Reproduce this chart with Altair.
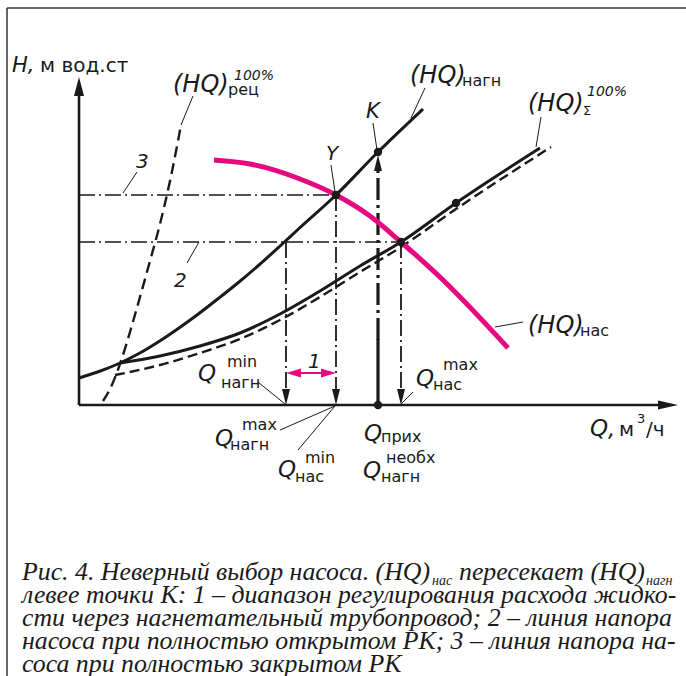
import altair as alt
import pandas as pd

# ---------------- data: Q to the right of the axis corner, H upwards (drawing units) ----------
# (HQ)нагн  - solid curve
nagn_q = [0, 20, 40, 60, 80, 100, 120, 140, 160, 180, 200, 220, 257, 299, 344]
nagn_h = [27, 33.5, 41.5, 51.5, 63.5, 77, 91.5, 107, 123, 140, 158, 176.5, 210, 253, 296]
# (HQ)Σ 100% - solid curve
sig_q = [41, 81, 121, 161, 201, 241, 281, 322, 377, 461]
sig_h = [42, 49, 59, 72, 91, 114, 139, 163, 202, 257]
# line 2 - dashed, just under (HQ)Σ
sigd_q = [36, 51, 81, 121, 161, 201, 241, 281, 322, 377, 472]
sigd_h = [30, 33, 40, 52, 66, 85, 108, 133, 158, 196, 258]
# line 3, (HQ)рец 100% - dashed steep curve
rec_q = [24, 31, 41, 51, 61, 71, 81, 91, 102]
rec_h = [4, 16, 41, 73, 108, 144, 181, 224, 280]
# (HQ)нас - magenta pump curve
nas_q = [135, 171, 221, 257, 291, 322, 364, 429]
nas_h = [245, 241, 226, 210, 189, 163, 125, 57]

# characteristic points: K, Y, intersection, point on Σ, Q прих
pt_q = [299, 257, 322, 377, 299]
pt_h = [253, 210, 163, 202, 0]

# Q values marked on the axis
q_nagn_min, q_nagn_max, q_nas_max, q_prih = 207, 257, 322, 299
h_line3, h_line2 = 210, 163

caption_lines = [
    "левее точки K: 1 – диапазон регулирования расхода жидко-",
    "сти через нагнетательный трубопровод; 2 – линия напора",
    "насоса при полностью открытом РК; 3 – линия напора на-",
    "соса при полностью закрытом РК",
]
caption_first = ["Рис. 4. Неверный выбор насоса. (HQ)", "нас", "пересекает (HQ)", "нагн"]

MAGENTA = "#E5097F"
INK = "#1a1a1a"

XS = alt.Scale(domain=[-79, 607], nice=False, zero=False)
YS = alt.Scale(domain=[-271, 405], nice=False, zero=False)
X = alt.X("q:Q", scale=XS, axis=None)
Y = alt.Y("h:Q", scale=YS, axis=None)


def curve_df(qs, hs):
    return pd.DataFrame({"q": qs, "h": hs, "i": list(range(len(qs)))})


def curve(qs, hs, color=INK, width=3.0, dash=None):
    kw = dict(color=color, strokeWidth=width, interpolate="monotone", strokeCap="butt")
    if dash:
        kw["strokeDash"] = dash
    return alt.Chart(curve_df(qs, hs)).mark_line(**kw).encode(x=X, y=Y, order="i:Q")


def segs(rows, color=INK, width=1.0, dash=None):
    df = pd.DataFrame(rows, columns=["q", "h", "q2", "h2"])
    kw = dict(color=color, strokeWidth=width, strokeCap="butt")
    if dash:
        kw["strokeDash"] = dash
    return alt.Chart(df).mark_rule(**kw).encode(x=X, y=Y, x2="q2:Q", y2="h2:Q")


def heads(rows, path, color=INK, size=100):
    df = pd.DataFrame(rows, columns=["q", "h"])
    return alt.Chart(df).mark_point(shape=path, filled=True, color=color, opacity=1,
                                    size=size, strokeWidth=0).encode(x=X, y=Y)


def texts(rows, font, style="normal", color=INK):
    df = pd.DataFrame(rows, columns=["q", "h", "t", "s"])
    return alt.Chart(df).mark_text(font=font, fontStyle=style, align="left",
                                   baseline="alphabetic", color=color).encode(
        x=X, y=Y, text="t:N", size=alt.Size("s:Q", scale=None))


DOWN = "M0,0 L-0.8,-3.2 L0.8,-3.2 Z"
UP = "M0,0 L-0.8,3.2 L0.8,3.2 Z"
LEFT = "M0,0 L3.0,-0.9 L3.0,0.9 Z"
RIGHT = "M0,0 L-3.0,-0.9 L-3.0,0.9 Z"
AX_UP = "M0,0 L-1,3.8 L1,3.8 Z"
AX_RIGHT = "M0,0 L-4,-0.9 L-4,0.9 Z"

DASHDOT = [16, 4, 2, 4]

layers = []
# frame
layers.append(segs([[-72, 397, 607, 397], [-72, -271, -72, 397]], color="#333", width=1.5))
# axes
layers.append(segs([[0, 0, 0, 318], [0, 0, 590, 0]], width=2.6))
layers.append(heads([[0, 328]], AX_UP))
layers.append(heads([[599, 0]], AX_RIGHT))
# horizontal dash-dot lines (3 and 2)
layers.append(segs([[0, h_line3, 257, h_line3], [0, h_line2, 322, h_line2]], width=1.3, dash=DASHDOT))
# vertical dash-dot lines with arrows
layers.append(segs([[q_nagn_min, h_line2, q_nagn_min, 4],
                    [q_nagn_max, h_line3, q_nagn_max, 4],
                    [q_nas_max, h_line2, q_nas_max, 4]], width=1.8, dash=DASHDOT))
layers.append(heads([[q_nagn_min, 0], [q_nagn_max, 0], [q_nas_max, 0]], DOWN))
# thick vertical towards K
layers.append(segs([[q_prih, 65, q_prih, 240]], width=3.2, dash=[22, 5, 3, 5]))
layers.append(segs([[q_prih, 0, q_prih, 66]], width=3.2))
layers.append(heads([[q_prih, 250]], UP))
# curves
layers.append(curve(rec_q, rec_h, width=2.4, dash=[11, 6]))
layers.append(curve(sigd_q, sigd_h, width=2.4, dash=[10, 5]))
layers.append(curve(sig_q, sig_h, width=3.0))
layers.append(curve(nagn_q, nagn_h, width=3.0))
layers.append(curve(nas_q, nas_h, color=MAGENTA, width=5.0))
# dots
layers.append(alt.Chart(pd.DataFrame({"q": pt_q, "h": pt_h})).mark_circle(
    color=INK, opacity=1, size=70).encode(x=X, y=Y))
# magenta double arrow (range 1)
layers.append(segs([[q_nagn_min + 8, 32, q_nagn_max - 8, 32]], color=MAGENTA, width=2.2))
layers.append(heads([[q_nagn_min, 32]], LEFT, color=MAGENTA))
layers.append(heads([[q_nagn_max, 32]], RIGHT, color=MAGENTA))
# leader lines
layers.append(segs([
    [102, 280, 114, 309],   # рец
    [44, 212, 58, 233],     # 3
    [108, 142, 120, 163],   # 2
    [252, 240, 256, 213],   # Y
    [294, 282, 298, 255],   # K
    [346, 317, 332, 287],   # нагн
    [462, 288, 457, 258],   # Σ
    [416, 78, 444, 83],     # нас
    [179, 23, 206, 1],      # Q min нагн
    [201, -25, 256, -1],    # Q max нагн
    [219, -45, 256, -1],    # Q min нас
    [334, 13, 322, 1],      # Q max нас
], width=1.0))

SANS = "DejaVu Sans"
italic_rows = [
    [-67, 333, "H,", 21],
    [94, 313, "(HQ)", 24], [155, 325, "100%", 14],
    [57, 237, "3", 20], [95, 118, "2", 20],
    [247, 245, "Y", 20], [287, 287, "K", 21],
    [331, 322, "(HQ)", 24],
    [449, 294, "(HQ)", 24], [508, 309, "100%", 14],
    [449, 72, "(HQ)", 24],
    [119, 24, "Q", 23], [136, -41, "Q", 23], [199, -72, "Q", 23], [337, 19, "Q", 23],
    [285, -36, "Q", 23], [284, -73, "Q", 23],
    [511, -31, "Q,", 23],
    [229, 37, "1", 20],
]
upright_rows = [
    [-39, 333, "м вод.ст", 20],
    [149, 310, "рец", 16],
    [383, 319, "нагн", 16],
    [504, 290, "Σ", 13],
    [501, 69, "нас", 16],
    [148, 38, "min", 16], [142, 17, "нагн", 16],
    [163, -25, "max", 16], [151, -45, "нагн", 16],
    [226, -58, "min", 16], [216, -77, "нас", 16],
    [364, 35, "max", 16], [354, 15, "нас", 16],
    [302, -37, "прих", 16],
    [307, -58, "необх", 16], [302, -77, "нагн", 16],
    [540, -31, "м", 20], [558, -18, "3", 13], [567, -31, "/ч", 20],
]
layers.append(texts(italic_rows, SANS, "italic"))
layers.append(texts(upright_rows, SANS))

SERIF = "Liberation Serif"
CAP = 25.8
cap_rows = [[-57, -175, caption_first[0], CAP],
            [380, -175, caption_first[2], CAP]]
for k, line in enumerate(caption_lines):
    cap_rows.append([-57, -198 - 23 * k, line, CAP])
sub_rows = [[353, -180, caption_first[1], 14], [567, -180, caption_first[3], 14]]
layers.append(texts(cap_rows, SERIF, "italic"))
layers.append(texts(sub_rows, SERIF, "italic"))

chart = alt.layer(*layers).properties(
    width=686, height=676, padding=0, autosize=alt.AutoSizeParams(type="none"),
    background="white",
).configure_view(stroke=None)

chart.save("out.html", embed_options={"renderer": "svg", "actions": False})
